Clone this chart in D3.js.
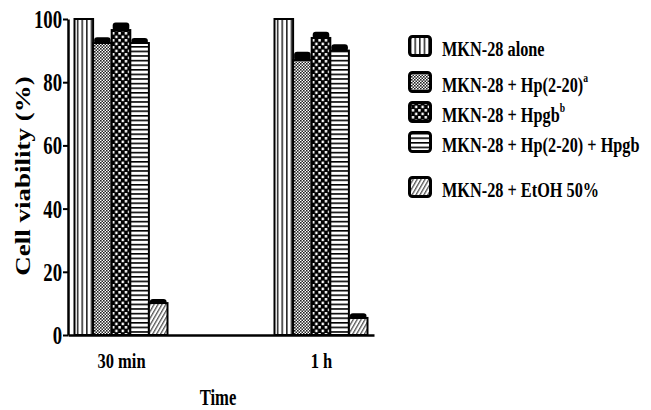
<!DOCTYPE html>
<html>
<head>
<meta charset="utf-8">
<script src="https://cdn.jsdelivr.net/npm/d3@7"></script>
<style>
    body { margin: 0; background: #fff; }
    text { font-family: "Liberation Serif", "Times New Roman", serif; font-weight: bold; }
</style>
</head>
<body>
<script>
// Chart data
var times = ["30 min", "1 h"];
var series = ["alone", "hp", "hpgb", "both", "etoh"];
var seriesLabels = [
    ["MKN-28 alone", ""],
    ["MKN-28 + Hp(2-20)", "a"],
    ["MKN-28 + Hpgb", "b"],
    ["MKN-28 + Hp(2-20) + Hpgb", ""],
    ["MKN-28 + EtOH 50%", ""]
];
var viability30 = [100, 92.4, 96.5, 92.4, 10.1];
var viability1h = [100, 87, 94, 90, 5.4];
var error30 = [0, 1.8, 2.4, 1.6, 1.3];
var error1h = [0, 2.6, 2, 2, 1.5];
var yTicks = [0, 20, 40, 60, 80, 100];

var table = times.map(function(t, i) {
    var v = i === 0 ? viability30 : viability1h;
    var e = i === 0 ? error30 : error1h;
    return {time: t, values: series.map(function(s, j) {
        return {key: s, value: v[j], err: e[j]};
    })};
});

var W = 651, H = 410;
var svg = d3.select("body").append("svg")
    .attr("width", W)
    .attr("height", H);

// patterns for the bars (black and white print style)
var defs = svg.append("defs");

var p = defs.append("pattern").attr("id", "pat-alone")
    .attr("patternUnits", "userSpaceOnUse")
    .attr("width", 4.6).attr("height", 10);
p.append("rect").attr("width", 4.6).attr("height", 10).attr("fill", "#fff");
p.append("rect").attr("x", 2).attr("width", 1.3).attr("height", 10)
    .attr("fill", "#000");

p = defs.append("pattern").attr("id", "pat-hp")
    .attr("patternUnits", "userSpaceOnUse")
    .attr("width", 3).attr("height", 3);
p.append("rect").attr("width", 3).attr("height", 3).attr("fill", "#fff");
p.append("rect").attr("width", 1.6).attr("height", 1.6).attr("fill", "#222");
p.append("rect").attr("x", 1.5).attr("y", 1.5)
    .attr("width", 1.6).attr("height", 1.6).attr("fill", "#222");

p = defs.append("pattern").attr("id", "pat-hpgb")
    .attr("patternUnits", "userSpaceOnUse")
    .attr("width", 6.4).attr("height", 7);
p.append("rect").attr("width", 6.4).attr("height", 7).attr("fill", "#000");
p.append("rect").attr("x", 0.6).attr("y", 0.6)
    .attr("width", 2.4).attr("height", 2.6).attr("fill", "#fff");
p.append("rect").attr("x", 3.8).attr("y", 4)
    .attr("width", 2.4).attr("height", 2.6).attr("fill", "#fff");

p = defs.append("pattern").attr("id", "pat-both")
    .attr("patternUnits", "userSpaceOnUse")
    .attr("width", 10).attr("height", 4.6);
p.append("rect").attr("width", 10).attr("height", 4.6).attr("fill", "#fff");
p.append("rect").attr("y", 0).attr("width", 10).attr("height", 1.6)
    .attr("fill", "#000");

p = defs.append("pattern").attr("id", "pat-etoh")
    .attr("patternUnits", "userSpaceOnUse")
    .attr("width", 3.4).attr("height", 10)
    .attr("patternTransform", "rotate(30)");
p.append("rect").attr("width", 3.4).attr("height", 10).attr("fill", "#fff");
p.append("rect").attr("width", 1.3).attr("height", 10).attr("fill", "#555");

var fills = d3.scaleOrdinal()
    .domain(series)
    .range(series.map(function(s) { return "url(#pat-" + s + ")"; }));

// scales
var yScale = d3.scaleLinear().domain([0, 100]).range([335, 19]);
var xScale = d3.scalePoint().domain(times).range([68, 374]).padding(0.265);
var inner = d3.scaleBand().domain(series).range([-46.5, 46.5]).padding(0);

// bars
var groups = svg.selectAll(".grp")
    .data(table)
    .enter().append("g")
    .attr("class", "grp")
    .attr("transform", function(d) {
        return "translate(" + xScale(d.time) + ",0)";
    });

groups.selectAll("rect.bar")
    .data(function(d) { return d.values; })
    .enter().append("rect")
    .attr("class", "bar")
    .attr("x", function(d) { return inner(d.key); })
    .attr("y", function(d) { return yScale(d.value); })
    .attr("width", inner.bandwidth())
    .attr("height", function(d) { return yScale(0) - yScale(d.value); })
    .attr("fill", function(d) { return fills(d.key); })
    .attr("stroke", "#000")
    .attr("stroke-width", 2);

// error bars, drawn as a thick black cap over each bar
groups.selectAll("rect.err")
    .data(function(d) { return d.values.filter(function(v) { return v.err > 0; }); })
    .enter().append("rect")
    .attr("class", "err")
    .attr("x", function(d) { return inner(d.key) + 1; })
    .attr("y", function(d) { return yScale(d.value + d.err); })
    .attr("width", inner.bandwidth() - 2)
    .attr("height", function(d) {
        return yScale(d.value) - yScale(d.value + d.err) + 1;
    })
    .attr("rx", 3)
    .attr("fill", "#000");

// axes
var yAxis = d3.axisLeft(yScale).tickValues(yTicks).tickSize(5).tickSizeOuter(0);
var gy = svg.append("g")
    .attr("transform", "translate(68,0)")
    .call(yAxis);
gy.select(".domain").attr("stroke-width", 2.5);
gy.selectAll(".tick line").attr("stroke-width", 2);
gy.selectAll(".tick text")
    .attr("font-size", 25)
    .attr("fill", "#000")
    .attr("x", -8)
    .attr("dy", "0.34em")
    .attr("transform", "scale(0.75,1)");

var xAxis = d3.axisBottom(xScale).tickSize(0).tickSizeOuter(0);
var gx = svg.append("g")
    .attr("transform", "translate(0,335)")
    .call(xAxis);
gx.select(".domain").attr("stroke-width", 2.5);
gx.selectAll(".tick text")
    .attr("font-size", 22)
    .attr("fill", "#000")
    .attr("y", 33)
    .attr("dy", 0)
    .attr("transform", "scale(0.75,1)");

// axis titles
svg.append("text")
    .attr("transform", "translate(30,176) scale(0.8,1) rotate(-90)")
    .attr("text-anchor", "middle")
    .attr("font-size", 27)
    .text("Cell viability (%)");

svg.append("text")
    .attr("transform", "translate(218,405) scale(0.74,1)")
    .attr("text-anchor", "middle")
    .attr("font-size", 22.5)
    .text("Time");

// legend
var legendY = [46, 82, 112, 142, 187];
var legend = svg.selectAll(".leg")
    .data(series)
    .enter().append("g")
    .attr("class", "leg")
    .attr("transform", function(d, i) {
        return "translate(408," + legendY[i] + ")";
    });

legend.append("rect")
    .attr("x", 1.5).attr("y", -9.5)
    .attr("width", 21).attr("height", 19)
    .attr("rx", 3)
    .attr("fill", function(d) { return fills(d); })
    .attr("stroke", "#000")
    .attr("stroke-width", 3);

var lt = legend.append("text")
    .attr("transform", "translate(34,10) scale(0.74,1)")
    .attr("font-size", 22);
lt.append("tspan").text(function(d, i) { return seriesLabels[i][0]; });
lt.append("tspan")
    .attr("font-size", 13)
    .attr("dy", -10)
    .text(function(d, i) { return seriesLabels[i][1]; });
</script>
</body>
</html>
